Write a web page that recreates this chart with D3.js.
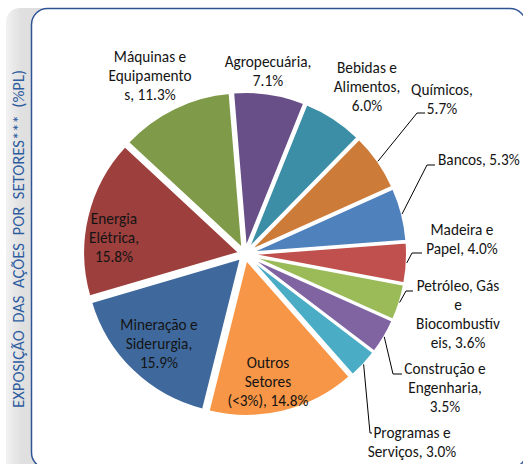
<!DOCTYPE html>
<html>
<head>
<meta charset="utf-8">
<script src="https://cdn.jsdelivr.net/npm/d3@7"></script>
<style>
  html, body { margin: 0; padding: 0; background: #ffffff; }
  svg { display: block; }
  text { font-family: Carlito, "Open Sans", Lato, sans-serif; }
</style>
</head>
<body>
<svg id="chart" width="523" height="464"></svg>
<script>
// Sector exposure (% of net assets), clockwise from the top
const categories = [
  "Agropecuária", "Bebidas e Alimentos", "Químicos", "Bancos", "Madeira e Papel",
  "Petróleo, Gás e Biocombustíveis", "Construção e Engenharia", "Programas e Serviços",
  "Outros Setores (<3%)", "Mineração e Siderurgia", "Energia Elétrica", "Máquinas e Equipamentos"
];
const values = [7.1, 6.0, 5.7, 5.3, 4.0, 3.6, 3.5, 3.0, 14.8, 15.9, 15.8, 11.3];
const colors = [
  "#684f88", "#3b8ea5", "#cd7b38", "#4f81bd", "#c0504d", "#9bbb59",
  "#8064a2", "#4bacc6", "#f79646", "#3f699c", "#9c3f3d", "#7f9a48"
];
// Label text, "|" = line break, {v} = value
const labelFormats = [
  "Agropecuária,|{v}", "Bebidas e|Alimentos,|{v}", "Químicos,|{v}", "Bancos, {v}",
  "Madeira e|Papel, {v}", "Petróleo, Gás|e|Biocombustív|eis, {v}", "Construção e|Engenharia,|{v}",
  "Programas e|Serviços, {v}", "Outros|Setores|(<3%), {v}", "Mineração e|Siderurgia,|{v}",
  "Energia|Elétrica,|{v}", "Máquinas e|Equipamento|s, {v}"
];
const title = "EXPOSIÇÃO  DAS  AÇÕES  POR  SETORES***  (%PL)";

// Layout: label anchor (center x, first line middle y, text-anchor) and leader elbows
const labelLayout = [
  {x: 268, y: 62, a: "middle"},
  {x: 367, y: 68, a: "middle"},
  {x: 442, y: 90, a: "middle", elbow: [417, 113], end: [425, 113]},
  {x: 438, y: 160, a: "start", elbow: [427, 165], end: [435, 165]},
  {x: 462, y: 230, a: "middle", elbow: [412, 253], end: [422, 253]},
  {x: 458, y: 286, a: "middle", elbow: [406, 291], end: [413, 291]},
  {x: 445, y: 369, a: "middle", elbow: [393, 374], end: [402, 374]},
  {x: 412, y: 433, a: "middle", elbow: [370, 433], end: [372, 433]},
  {x: 268, y: 363, a: "middle"},
  {x: 159, y: 325, a: "middle"},
  {x: 114, y: 219, a: "middle"},
  {x: 150, y: 57, a: "middle"}
];

const svg = d3.select("#chart");

// Left title strip
const defs = svg.append("defs");
const grad = defs.append("linearGradient").attr("id", "strip").attr("x1", 0).attr("x2", 1);
grad.append("stop").attr("offset", 0).attr("stop-color", "#f2f2f2");
grad.append("stop").attr("offset", 0.25).attr("stop-color", "#e0e0e0");
grad.append("stop").attr("offset", 1).attr("stop-color", "#dcdcdc");
svg.append("rect")
  .attr("x", 6).attr("y", 8).attr("width", 60).attr("height", 480)
  .attr("rx", 14).attr("fill", "url(#strip)");

// Panel frame
svg.append("rect")
  .attr("x", 31.5).attr("y", 8.5).attr("width", 494.5).attr("height", 460)
  .attr("rx", 16).attr("fill", "#ffffff")
  .attr("stroke", "#2f5496").attr("stroke-width", 1.5);

svg.append("text")
  .attr("transform", "translate(23.5,239) rotate(-90)")
  .attr("text-anchor", "middle")
  .attr("fill", "#2e5c9f")
  .attr("font-size", 17)
  .attr("textLength", 338)
  .attr("lengthAdjust", "spacingAndGlyphs")
  .style("white-space", "pre")
  .text(title);

// Pie
const cx = 245, cy = 254, R = 156, explode = 6;
const offset = -4.7 * Math.PI / 180;
const pie = d3.pie().sort(null).value(d => d)
  .startAngle(offset).endAngle(2 * Math.PI + offset);
const arcs = pie(values);
const arc = d3.arc().innerRadius(0).outerRadius(R);

const g = svg.append("g").attr("transform", `translate(${cx},${cy})`);
const mid = d => (d.startAngle + d.endAngle) / 2;

g.selectAll("path.slice")
  .data(arcs)
  .join("path")
  .attr("class", "slice")
  .attr("transform", d => `translate(${explode * Math.sin(mid(d))},${-explode * Math.cos(mid(d))})`)
  .attr("d", arc)
  .attr("fill", (d, i) => colors[i])
  .attr("stroke", "#ffffff")
  .attr("stroke-width", 2)
  .attr("stroke-linejoin", "round");

// Leader lines from slice edge to label
const leaders = svg.append("g").attr("fill", "none").attr("stroke", "#000").attr("stroke-width", 1);
arcs.forEach((d, i) => {
  const L = labelLayout[i];
  if (!L.elbow) return;
  const a = mid(d), r = R + explode;
  const p0 = [cx + r * Math.sin(a), cy - r * Math.cos(a)];
  leaders.append("path").attr("d", d3.line()([p0, L.elbow, L.end]));
});

// Labels
const fmt = d3.format(".1f");
const lineH = 18.8;
const labels = svg.append("g").attr("font-size", 15.3).attr("fill", "#141414");
arcs.forEach((d, i) => {
  const L = labelLayout[i];
  const lines = labelFormats[i].replace("{v}", fmt(values[i]) + "%").split("|");
  const t = labels.append("text").attr("text-anchor", L.a);
  lines.forEach((s, k) => {
    t.append("tspan").attr("x", L.x).attr("y", L.y + k * lineH).attr("dy", "0.35em").text(s);
  });
});
</script>
</body>
</html>
